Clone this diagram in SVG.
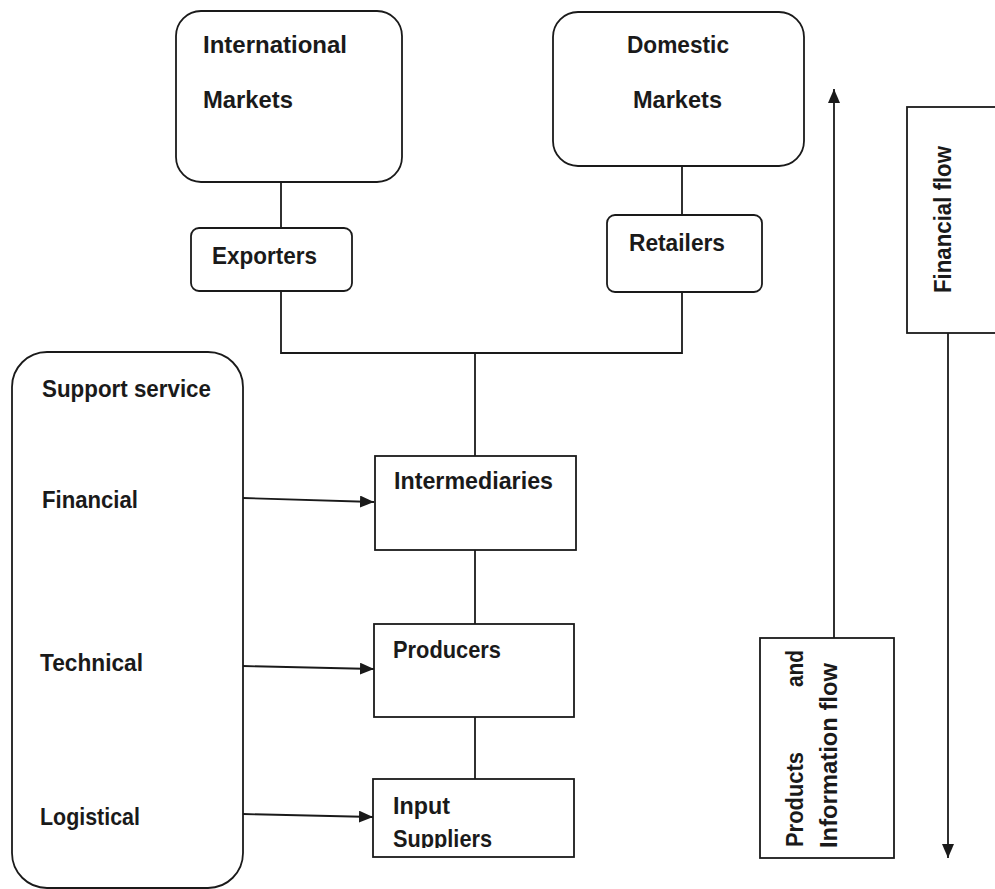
<svg xmlns="http://www.w3.org/2000/svg" width="995" height="889" viewBox="0 0 995 889">
<style>
.box{fill:none;stroke:#1a1a1a;stroke-width:1.8}
.ln{fill:none;stroke:#1a1a1a;stroke-width:1.8}
.t{font-family:"Liberation Sans",Arial,sans-serif;font-weight:bold;font-size:24px;fill:#1a1a1a}
</style>
<defs>
<marker id="ah" viewBox="0 0 14 12" refX="14" refY="6" markerWidth="14" markerHeight="12" markerUnits="userSpaceOnUse" orient="auto">
<path d="M0,0 L14,6 L0,12 Z" fill="#1a1a1a"/>
</marker>
<clipPath id="clipInput"><rect x="373" y="779" width="201" height="69"/></clipPath>
</defs>
<rect width="995" height="889" fill="#ffffff"/>

<g id="connectors">
<line class="ln" x1="281" y1="182" x2="281" y2="228"/>
<polyline class="ln" points="281,291 281,353 682,353 682,292"/>
<line class="ln" x1="682" y1="166" x2="682" y2="215"/>
<line class="ln" x1="475" y1="353" x2="475" y2="456"/>
<line class="ln" x1="475" y1="550" x2="475" y2="624"/>
<line class="ln" x1="475" y1="717" x2="475" y2="779"/>
<line class="ln" x1="243" y1="498" x2="374" y2="502" marker-end="url(#ah)"/>
<line class="ln" x1="243" y1="666" x2="374" y2="669" marker-end="url(#ah)"/>
<line class="ln" x1="243" y1="814" x2="373" y2="817" marker-end="url(#ah)"/>
<line class="ln" x1="834" y1="638" x2="834" y2="89" marker-end="url(#ah)"/>
<line class="ln" x1="948" y1="333" x2="948" y2="858" marker-end="url(#ah)"/>
</g>

<g id="international-markets">
<rect class="box" x="176" y="11" width="226" height="171" rx="25"/>
<text class="t" x="203" y="53" textLength="144" lengthAdjust="spacingAndGlyphs">International</text>
<text class="t" x="203" y="108" textLength="90" lengthAdjust="spacingAndGlyphs">Markets</text>
</g>

<g id="exporters">
<rect class="box" x="191" y="228" width="161" height="63" rx="8"/>
<text class="t" x="212" y="264" textLength="105" lengthAdjust="spacingAndGlyphs">Exporters</text>
</g>

<g id="domestic-markets">
<rect class="box" x="553" y="12" width="251" height="154" rx="25"/>
<text class="t" x="627" y="53" textLength="102" lengthAdjust="spacingAndGlyphs">Domestic</text>
<text class="t" x="633" y="108" textLength="89" lengthAdjust="spacingAndGlyphs">Markets</text>
</g>

<g id="retailers">
<rect class="box" x="607" y="215" width="155" height="77" rx="8"/>
<text class="t" x="629" y="251" textLength="96" lengthAdjust="spacingAndGlyphs">Retailers</text>
</g>

<g id="support-service">
<rect class="box" x="12" y="352" width="231" height="536" rx="35"/>
<text class="t" x="42" y="397" textLength="169" lengthAdjust="spacingAndGlyphs">Support service</text>
<text class="t" x="42" y="508" textLength="96" lengthAdjust="spacingAndGlyphs">Financial</text>
<text class="t" x="40" y="671" textLength="103" lengthAdjust="spacingAndGlyphs">Technical</text>
<text class="t" x="40" y="825" textLength="100" lengthAdjust="spacingAndGlyphs">Logistical</text>
</g>

<g id="intermediaries">
<rect class="box" x="375" y="456" width="201" height="94"/>
<text class="t" x="394" y="489" textLength="159" lengthAdjust="spacingAndGlyphs">Intermediaries</text>
</g>

<g id="producers">
<rect class="box" x="374" y="624" width="200" height="93"/>
<text class="t" x="393" y="658" textLength="108" lengthAdjust="spacingAndGlyphs">Producers</text>
</g>

<g id="input-suppliers">
<rect class="box" x="373" y="779" width="201" height="78"/>
<g clip-path="url(#clipInput)">
<text class="t" x="393" y="814" textLength="57" lengthAdjust="spacingAndGlyphs">Input</text>
<text class="t" x="393" y="847" textLength="99" lengthAdjust="spacingAndGlyphs">Suppliers</text>
</g>
</g>

<g id="financial-flow">
<rect class="box" x="907" y="107" width="100" height="226"/>
<text class="t" transform="translate(951,293) rotate(-90)" x="0" y="0" textLength="147" lengthAdjust="spacingAndGlyphs">Financial flow</text>
</g>

<g id="products-information-flow">
<rect class="box" x="760" y="638" width="134" height="220"/>
<text class="t" transform="translate(803,847) rotate(-90)"><tspan x="0" y="0" textLength="95" lengthAdjust="spacingAndGlyphs">Products</tspan><tspan x="160" y="0" textLength="37" lengthAdjust="spacingAndGlyphs">and</tspan></text>
<text class="t" transform="translate(837,848) rotate(-90)" x="0" y="0" textLength="185" lengthAdjust="spacingAndGlyphs">Information flow</text>
</g>
</svg>
